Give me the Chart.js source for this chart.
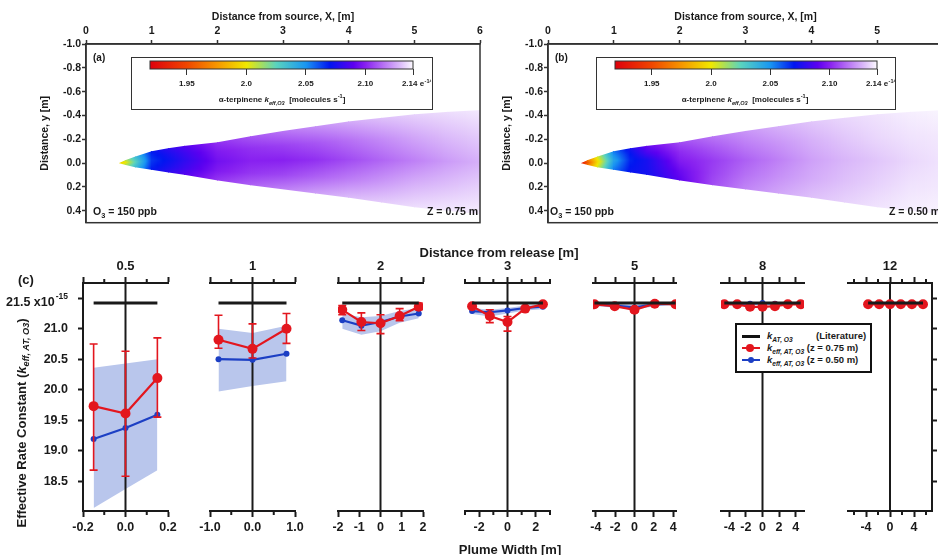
<!DOCTYPE html>
<html>
<head>
<meta charset="utf-8">
<title>alpha-terpinene effective rate constant in the plume</title>
<script src="https://cdn.jsdelivr.net/npm/chart.js@4.4.1/dist/chart.umd.min.js"></script>
<style>
  html, body { margin: 0; padding: 0; background: #fff; }
  body { position: relative; width: 938px; height: 555px; overflow: hidden;
         font-family: "Liberation Sans", Arial, sans-serif; font-weight: bold; color: #1a1a1a; }
  canvas, .txt, .box, .ln, .dot { position: absolute; }
  .txt { white-space: nowrap; line-height: 1; z-index: 6; }
  .box { border: 1.5px solid #333; background: #fff; box-sizing: border-box; }
  .ln { height: 2px; }
  .dot { border-radius: 50%; }
  sub, sup { font-size: 70%; line-height: 0; }
</style>
</head>
<body>
<!-- (a) and (b): plume maps -->
<canvas id="mapA" width="490" height="230" style="left:0;top:0"></canvas>
<canvas id="mapB" width="470" height="230" style="left:490px;top:0"></canvas>

<div class="box" style="left:131px;top:57px;width:302px;height:53px"></div>
<canvas id="cbA" width="299" height="50" style="left:132px;top:58px"></canvas>
<div class="box" style="left:596px;top:57px;width:300px;height:53px"></div>
<canvas id="cbB" width="298" height="50" style="left:597px;top:58px"></canvas>

<div class="txt" style="left:282px;top:100px;transform:translate(-50%,-50%);font-size:8px">α-terpinene <i>k</i><sub><i>eff,O3</i></sub> &nbsp;[molecules s<sup>-1</sup>]</div>
<div class="txt" style="left:745px;top:100px;transform:translate(-50%,-50%);font-size:8px">α-terpinene <i>k</i><sub><i>eff,O3</i></sub> &nbsp;[molecules s<sup>-1</sup>]</div>

<div class="txt" style="left:93px;top:53px;font-size:10px">(a)</div>
<div class="txt" style="left:93px;top:206px;font-size:10.5px">O<sub>3</sub> = 150 ppb</div>
<div class="txt" style="left:427px;top:206px;font-size:10.5px">Z = 0.75 m</div>
<div class="txt" style="left:555px;top:53px;font-size:10px">(b)</div>
<div class="txt" style="left:550px;top:206px;font-size:10.5px">O<sub>3</sub> = 150 ppb</div>
<div class="txt" style="left:889px;top:206px;font-size:10.5px">Z = 0.50 m</div>

<!-- (c) labels -->
<div class="txt" style="left:18px;top:273px;font-size:13px">(c)</div>
<div class="txt" style="left:499px;top:252px;transform:translate(-50%,-50%);font-size:13px">Distance from release [m]</div>
<div class="txt" style="left:510px;top:549px;transform:translate(-50%,-50%);font-size:13px">Plume Width [m]</div>
<div class="txt" style="left:21px;top:423px;transform:translate(-50%,-50%) rotate(-90deg);font-size:13px">Effective Rate Constant (<i>k</i><sub><i>eff, AT, O3</i></sub>)</div>

<div class="box" id="legend" style="left:735px;top:323px;width:137px;height:50px;border:2px solid #111;z-index:5">
  <span class="ln" style="left:5px;top:10px;width:18px;height:3px;background:#111"></span>
  <div class="txt" style="left:30px;top:6px;font-size:9.5px"><i>k</i><sub><i>AT, O3</i></sub></div>
  <div class="txt" style="left:79px;top:6px;font-size:9.5px">(Literature)</div>
  <span class="ln" style="left:5px;top:22px;width:18px;background:#e3161e"></span>
  <span class="dot" style="left:9px;top:19px;width:8px;height:8px;background:#e3161e"></span>
  <div class="txt" style="left:30px;top:18px;font-size:9.5px"><i>k</i><sub><i>eff, AT, O3</i></sub> (z = 0.75 m)</div>
  <span class="ln" style="left:5px;top:34px;width:18px;background:#1c3fc4"></span>
  <span class="dot" style="left:11px;top:32px;width:6px;height:6px;background:#1c3fc4"></span>
  <div class="txt" style="left:30px;top:30px;font-size:9.5px"><i>k</i><sub><i>eff, AT, O3</i></sub> (z = 0.50 m)</div>
</div>

<script>
// ---------- (a)/(b) plume maps: k_eff in units of 1e-14 ----------
const plumeX     = [0.5, 0.6, 0.75, 1.0, 1.25, 1.5, 2.0, 2.5, 3.0, 3.5, 4.0, 4.5, 5.0, 5.5, 6.0];
const plumeUpper = [0, -0.025, -0.055, -0.10, -0.125, -0.145, -0.175, -0.225, -0.27, -0.31, -0.35, -0.38, -0.41, -0.43, -0.445];
const plumeLower = [0, 0.015, 0.035, 0.056, 0.078, 0.098, 0.145, 0.185, 0.22, 0.255, 0.29, 0.33, 0.37, 0.40, 0.43];

// z = 0.75 m, rows from the upper plume edge to the lower one
const kA_upperEdge = [1.995, 2.01, 2.035, 2.07, 2.08, 2.088, 2.103, 2.11, 2.116, 2.121, 2.126, 2.13, 2.133, 2.135, 2.137];
const kA_upperMid  = [1.99, 2.005, 2.03, 2.067, 2.075, 2.083, 2.098, 2.103, 2.106, 2.11, 2.115, 2.12, 2.125, 2.129, 2.132];
const kA_center    = [1.985, 2.0, 2.025, 2.065, 2.072, 2.08, 2.095, 2.10, 2.10, 2.103, 2.108, 2.113, 2.118, 2.123, 2.127];
const kA_lowerMid  = [1.99, 2.005, 2.03, 2.067, 2.075, 2.083, 2.098, 2.104, 2.107, 2.112, 2.117, 2.122, 2.127, 2.13, 2.133];
const kA_lowerEdge = [1.995, 2.01, 2.035, 2.07, 2.08, 2.088, 2.104, 2.112, 2.118, 2.124, 2.129, 2.132, 2.135, 2.137, 2.138];

// z = 0.50 m
const kB_upperEdge = [1.93, 1.965, 2.005, 2.055, 2.075, 2.092, 2.108, 2.116, 2.122, 2.127, 2.131, 2.134, 2.136, 2.138, 2.139];
const kB_upperMid  = [1.925, 1.96, 2.0, 2.05, 2.07, 2.085, 2.102, 2.11, 2.117, 2.122, 2.127, 2.131, 2.134, 2.136, 2.137];
const kB_center    = [1.925, 1.955, 1.995, 2.045, 2.068, 2.075, 2.098, 2.105, 2.112, 2.118, 2.124, 2.128, 2.131, 2.134, 2.136];
const kB_lowerMid  = [1.925, 1.96, 2.0, 2.05, 2.07, 2.075, 2.093, 2.106, 2.115, 2.121, 2.126, 2.13, 2.133, 2.136, 2.137];
const kB_lowerEdge = [1.93, 1.965, 2.005, 2.055, 2.072, 2.074, 2.09, 2.108, 2.119, 2.125, 2.13, 2.133, 2.136, 2.138, 2.139];

const mapXTicks = [0, 1, 2, 3, 4, 5, 6];
const mapYTicks = [-1.0, -0.8, -0.6, -0.4, -0.2, 0.0, 0.2, 0.4];
const cbTicks = [1.95, 2.0, 2.05, 2.10, 2.14];
const cbLabels = ['1.95', '2.0', '2.05', '2.10', '2.14 e'];

// ---------- (c) cross-plume profiles: k_eff in units of 1e-15 ----------
const distances = ['0.5', '1', '2', '3', '5', '8', '12'];
const plumeWidthPos = [
  [-0.15, 0, 0.15],
  [-0.8, 0, 0.8],
  [-1.8, -0.9, 0, 0.9, 1.8],
  [-2.5, -1.25, 0, 1.25, 2.5],
  [-4.15, -2.05, 0, 2.1, 4.25],
  [-4.6, -3.05, -1.5, 0, 1.5, 3.05, 4.6],
  [-3.65, -1.8, 0, 1.8, 3.65, 5.5],
];
const redK = [
  [19.73, 19.61, 20.19],
  [20.82, 20.67, 21.00],
  [21.31, 21.11, 21.09, 21.21, 21.36],
  [21.37, 21.21, 21.11, 21.33, 21.40],
  [21.40, 21.37, 21.31, 21.41, 21.40],
  [21.40, 21.40, 21.36, 21.36, 21.37, 21.40, 21.40],
  [21.40, 21.40, 21.40, 21.40, 21.40, 21.40],
];
const redHi = [
  [20.75, 20.63, 20.85],
  [21.22, 21.08, 21.25],
  [21.38, 21.26, 21.23, 21.33, 21.42],
  [21.37, 21.31, 21.20, 21.33, 21.40],
  [21.40, 21.37, 21.33, 21.41, 21.40],
  [21.40, 21.40, 21.36, 21.36, 21.37, 21.40, 21.40],
  [21.40, 21.40, 21.40, 21.40, 21.40, 21.40],
];
const redLo = [
  [18.68, 18.58, 19.55],
  [20.68, 20.52, 20.76],
  [21.23, 20.97, 20.92, 21.13, 21.31],
  [21.37, 21.10, 20.96, 21.33, 21.40],
  [21.40, 21.37, 21.27, 21.41, 21.40],
  [21.40, 21.40, 21.36, 21.36, 21.37, 21.40, 21.40],
  [21.40, 21.40, 21.40, 21.40, 21.40, 21.40],
];
const blueK = [
  [19.19, 19.37, 19.59],
  [20.50, 20.49, 20.59],
  [21.14, 21.05, 21.11, 21.20, 21.25],
  [21.29, 21.27, 21.30, 21.34, 21.36],
  [21.40, 21.38, 21.35, 21.40, 21.41],
  [21.41, 21.41, 21.41, 21.42, 21.41, 21.41, 21.41],
  [21.41, 21.41, 21.41, 21.41, 21.41, 21.41],
];
const bandHi = [
  [20.36, 20.43, 20.50],
  [21.00, 20.93, 21.05],
  [21.25, 21.19, 21.21, 21.29, 21.34],
  [21.34, 21.31, 21.34, 21.38, 21.40],
  [21.42, 21.41, 21.39, 21.42, 21.43],
  [21.42, 21.42, 21.42, 21.43, 21.42, 21.42, 21.42],
  [21.42, 21.42, 21.42, 21.42, 21.42, 21.42],
];
const bandLo = [
  [18.06, 18.37, 18.68],
  [19.97, 20.06, 20.14],
  [21.00, 20.90, 20.96, 21.10, 21.17],
  [21.24, 21.20, 21.25, 21.30, 21.32],
  [21.37, 21.35, 21.31, 21.37, 21.39],
  [21.40, 21.40, 21.40, 21.41, 21.40, 21.40, 21.40],
  [21.40, 21.40, 21.40, 21.40, 21.40, 21.40],
];
const literatureK = 21.42;
const yTicks = [18.5, 19.0, 19.5, 20.0, 20.5, 21.0, 21.5];
const xRange = [[-0.2, 0.2], [-1, 1], [-2, 2], [-3, 3], [-4.3, 4.3], [-5, 5], [-7, 7]];
const majorTicks = [[-0.2, 0, 0.2], [-1, 0, 1], [-2, -1, 0, 1, 2], [-2, 0, 2], [-4, -2, 0, 2, 4], [-4, -2, 0, 2, 4], [-4, 0, 4]];
const minorTicks = [[-0.1, 0.1], [-0.5, 0.5], [], [-3, -1, 1, 3], [], [], [-6, -2, 2, 6]];
const tickDecimals = [1, 1, 0, 0, 0, 0, 0];

// ---------- layout / style ----------
const FONT = '"Liberation Sans", Arial, sans-serif';
const INK = '#1a1a1a', RED = '#e3161e', BLUE = '#1c3fc4', BAND = '#b9c6ec';
const f = size => ({ family: FONT, size, weight: 'bold' });
const Y_MIN = 18.01, Y_MAX = 21.75;
const subLeft = [83, 210, 338, 465, 593, 721, 848];
const subWidth = [85, 85, 85, 85, 83, 83, 84];

// colour map of the colour bar (k in 1e-14)
const cmapK = [1.919, 1.95, 1.975, 2.00, 2.025, 2.05, 2.07, 2.09, 2.10, 2.115, 2.13, 2.14];
const cmapRGB = [[222, 0, 12], [240, 70, 0], [246, 150, 0], [240, 232, 0], [90, 212, 190], [25, 150, 242],
                 [0, 22, 240], [92, 0, 240], [136, 32, 240], [182, 112, 245], [222, 192, 250], [252, 250, 255]];

function kColor(v) {
  if (v <= cmapK[0]) return `rgb(${cmapRGB[0]})`;
  for (let i = 1; i < cmapK.length; i++) {
    if (v <= cmapK[i]) {
      const t = (v - cmapK[i - 1]) / (cmapK[i] - cmapK[i - 1]);
      const c = cmapRGB[i - 1].map((a, j) => Math.round(a + (cmapRGB[i][j] - a) * t));
      return `rgb(${c})`;
    }
  }
  return `rgb(${cmapRGB[cmapRGB.length - 1]})`;
}

// Paints the plume: one pixel column at a time, a vertical gradient through the
// five rows, placed with the chart's own x/y scales.
const plumePlugin = {
  id: 'plume',
  beforeDatasetsDraw(chart, args, opts) {
    const rows = opts.rows;
    if (!rows) return;
    const xs = chart.scales.x, ys = chart.scales.y, ctx = chart.ctx;
    ctx.save();
    for (let i = 0; i < plumeX.length - 1; i++) {
      const p0 = xs.getPixelForValue(plumeX[i]), p1 = xs.getPixelForValue(plumeX[i + 1]);
      for (let px = Math.floor(p0); px < Math.ceil(p1); px++) {
        const t = Math.min(1, Math.max(0, (px + 0.5 - p0) / (p1 - p0)));
        const at = a => a[i] + (a[i + 1] - a[i]) * t;
        const top = ys.getPixelForValue(at(plumeUpper)), bot = ys.getPixelForValue(at(plumeLower));
        if (bot - top < 0.3) continue;
        const g = ctx.createLinearGradient(0, top, 0, bot);
        rows.forEach((r, j) => g.addColorStop(j / (rows.length - 1), kColor(at(r))));
        ctx.fillStyle = g;
        ctx.fillRect(px, top, 1, bot - top);
      }
    }
    ctx.restore();
  },
  afterDraw(chart) {
    const a = chart.chartArea, ctx = chart.ctx;
    ctx.save();
    ctx.strokeStyle = '#333'; ctx.lineWidth = 1.5;
    ctx.strokeRect(a.left, a.top, a.right - a.left, a.bottom - a.top);
    ctx.restore();
  }
};

function mapChart(id, rows, yWidth, yTitlePad, rightPad) {
  return new Chart(document.getElementById(id), {
    type: 'scatter',
    data: { datasets: [] },
    options: {
      responsive: false, animation: false, events: [],
      layout: { padding: { left: 0, right: rightPad, top: 0, bottom: 7 } },
      plugins: { legend: { display: false }, tooltip: { enabled: false }, plume: { rows } },
      scales: {
        x: {
          type: 'linear', position: 'top', min: 0, max: 6,
          afterBuildTicks: s => { s.ticks = mapXTicks.map(v => ({ value: v })); },
          afterFit: s => { s.height = 44; },
          grid: { drawOnChartArea: false, tickLength: 4, tickWidth: 1.5, tickColor: '#333' },
          border: { color: '#333', width: 1.5 },
          ticks: { font: f(10.5), color: INK, padding: 3, maxRotation: 0, autoSkip: false },
          title: { display: true, text: 'Distance from source, X, [m]', font: f(10.5), color: INK, padding: { top: 10.7, bottom: 0 } }
        },
        y: {
          type: 'linear', reverse: true, min: -1.0, max: 0.5,
          afterBuildTicks: s => { s.ticks = mapYTicks.map(v => ({ value: v })); },
          afterFit: s => { s.width = yWidth; },
          grid: { drawOnChartArea: false, tickLength: 4, tickWidth: 1.5, tickColor: '#333' },
          border: { color: '#333', width: 1.5 },
          ticks: { font: f(10.5), color: INK, padding: 1, callback: v => v.toFixed(1) },
          title: { display: true, text: 'Distance, y [m]', font: f(10.5), color: INK, padding: { top: yTitlePad, bottom: 0 } }
        }
      }
    },
    plugins: [plumePlugin]
  });
}

const colorbarPlugin = {
  id: 'colorbar',
  beforeDatasetsDraw(chart) {
    const a = chart.chartArea, xs = chart.scales.x, ctx = chart.ctx;
    const g = ctx.createLinearGradient(a.left, 0, a.right, 0);
    cmapK.forEach((k, i) => {
      const t = (xs.getPixelForValue(k) - a.left) / (a.right - a.left);
      g.addColorStop(Math.min(1, Math.max(0, t)), `rgb(${cmapRGB[i]})`);
    });
    ctx.save();
    ctx.fillStyle = g;
    ctx.fillRect(a.left, a.top, a.right - a.left, a.bottom - a.top);
    ctx.strokeStyle = '#333'; ctx.lineWidth = 1;
    ctx.strokeRect(a.left, a.top, a.right - a.left, a.bottom - a.top);
    // exponent of the last label
    const last = cbTicks[cbTicks.length - 1];
    ctx.font = `bold 8px ${FONT}`;
    const w = ctx.measureText(cbLabels[cbLabels.length - 1]).width;
    ctx.fillStyle = INK; ctx.textBaseline = 'middle'; ctx.textAlign = 'left';
    ctx.font = `bold 5.5px ${FONT}`;
    ctx.fillText('-14', xs.getPixelForValue(last) + w / 2 + 0.5, a.bottom + 12);
    ctx.restore();
  }
};

function colorbarChart(id) {
  return new Chart(document.getElementById(id), {
    type: 'scatter',
    data: { datasets: [] },
    options: {
      responsive: false, animation: false, events: [],
      layout: { padding: { left: 18, right: 18, top: 3, bottom: 0 } },
      plugins: { legend: { display: false }, tooltip: { enabled: false } },
      scales: {
        x: {
          type: 'linear', min: cmapK[0], max: cmapK[cmapK.length - 1],
          afterBuildTicks: s => { s.ticks = cbTicks.map(v => ({ value: v })); },
          afterFit: s => { s.height = 39; },
          grid: { drawOnChartArea: false, tickLength: 6, tickWidth: 1, tickColor: '#333' },
          border: { display: false },
          ticks: { font: f(8), color: INK, padding: 4, maxRotation: 0, autoSkip: false,
                   callback: (v, i) => cbLabels[i] }
        },
        y: { display: false, min: 0, max: 1 }
      }
    },
    plugins: [colorbarPlugin]
  });
}

mapChart('mapA', [kA_upperEdge, kA_upperMid, kA_center, kA_lowerMid, kA_lowerEdge], 86, 38.7, 10);
mapChart('mapB', [kB_upperEdge, kB_upperMid, kB_center, kB_lowerMid, kB_lowerEdge], 58, 10.7, 17);
colorbarChart('cbA');
colorbarChart('cbB');

// ---------- (c) small multiples ----------
const errorBarPlugin = {
  id: 'errorBars',
  beforeDatasetDraw(chart, args, opts) {
    if (args.index !== opts.datasetIndex) return;
    const xs = chart.scales.x, ys = chart.scales.y, ctx = chart.ctx;
    ctx.save();
    ctx.strokeStyle = RED; ctx.lineWidth = 1.6;
    opts.x.forEach((xv, j) => {
      if (opts.hi[j] - opts.lo[j] < 0.02) return;
      const px = xs.getPixelForValue(xv);
      const p1 = ys.getPixelForValue(opts.hi[j]), p2 = ys.getPixelForValue(opts.lo[j]);
      ctx.beginPath();
      ctx.moveTo(px, p1); ctx.lineTo(px, p2);
      ctx.moveTo(px - 4, p1); ctx.lineTo(px + 4, p1);
      ctx.moveTo(px - 4, p2); ctx.lineTo(px + 4, p2);
      ctx.stroke();
    });
    ctx.restore();
  }
};

const axisExtrasPlugin = {
  id: 'axisExtras',
  afterDraw(chart, args, opts) {
    const ctx = chart.ctx, a = chart.chartArea, xs = chart.scales.x;
    ctx.save();
    ctx.strokeStyle = INK; ctx.lineWidth = 2;
    (opts.minor || []).forEach(v => {
      const px = xs.getPixelForValue(v);
      ctx.beginPath();
      ctx.moveTo(px, a.top); ctx.lineTo(px, a.top - 4);
      ctx.moveTo(px, a.bottom); ctx.lineTo(px, a.bottom + 4);
      ctx.stroke();
    });
    if (opts.exponentLabel) {
      // "21.5 x10^-15" on the left axis
      const ys = chart.scales.y;
      const py = ys.getPixelForValue(21.5) + 4;
      const right = ys.right - 15;
      ctx.fillStyle = INK; ctx.textBaseline = 'middle'; ctx.textAlign = 'right';
      ctx.font = `bold 8.5px ${FONT}`;
      ctx.fillText('-15', right, py - 6);
      const wSup = ctx.measureText('-15').width;
      ctx.font = `bold 12.5px ${FONT}`;
      ctx.fillText('21.5 x10', right - wSup - 1, py);
    }
    ctx.restore();
  }
};

function subChart(i) {
  const first = i === 0, last = i === distances.length - 1;
  const L = subLeft[i], W = subWidth[i];
  const padL = first ? 0 : 22, padR = last ? 0 : 22;
  const yW = first ? L : 0, y2W = last ? 12 : 0;
  const cv = document.createElement('canvas');
  cv.width = (first ? yW : padL) + W + padR + y2W;
  cv.height = 315;
  cv.style.left = (first ? 0 : L - padL) + 'px';
  cv.style.top = '240px';
  document.body.insertBefore(cv, document.getElementById('legend'));

  const xs = plumeWidthPos[i];
  const pts = arr => xs.map((x, j) => ({ x, y: arr[j] }));
  const ticksAt = list => s => { s.ticks = list.map(v => ({ value: v })); };
  const tickGrid = { drawOnChartArea: false, tickLength: 6, tickWidth: 2, tickColor: INK };

  new Chart(cv, {
    type: 'line',
    data: {
      datasets: [
        { label: 'band hi', data: pts(bandHi[i]), borderWidth: 0, pointRadius: 0, fill: false, order: 6 },
        { label: 'band lo', data: pts(bandLo[i]), borderWidth: 0, pointRadius: 0, fill: '-1', backgroundColor: BAND, order: 5 },
        { label: 'x = 0', data: [{ x: 0, y: Y_MIN }, { x: 0, y: Y_MAX }], borderColor: INK, borderWidth: 2, pointRadius: 0, order: 4 },
        { label: 'k_eff z=0.50', data: pts(blueK[i]), borderColor: BLUE, backgroundColor: BLUE, borderWidth: 2.2,
          pointRadius: 3, pointBorderWidth: 0, order: 3 },
        { label: 'k_eff z=0.75', data: pts(redK[i]), borderColor: RED, backgroundColor: RED, borderWidth: 2.2,
          pointRadius: 5, pointBorderWidth: 0, order: 2 },
        { label: 'k literature', data: [{ x: xs[0], y: literatureK }, { x: xs[xs.length - 1], y: literatureK }],
          borderColor: INK, borderWidth: 3, pointRadius: 0, order: 1 },
      ]
    },
    options: {
      responsive: false, animation: false, events: [],
      layout: { padding: { left: first ? 0 : padL, right: padR, top: 0, bottom: 0 } },
      plugins: {
        legend: { display: false }, tooltip: { enabled: false },
        errorBars: { datasetIndex: 4, x: xs, hi: redHi[i], lo: redLo[i] },
        axisExtras: { minor: minorTicks[i], exponentLabel: first }
      },
      scales: {
        x: {
          type: 'linear', position: 'bottom', min: xRange[i][0], max: xRange[i][1],
          afterBuildTicks: ticksAt(majorTicks[i]),
          afterFit: s => { s.height = 44; },
          grid: tickGrid, border: { color: INK, width: 2 },
          ticks: { font: f(12.5), color: INK, padding: 3.5, maxRotation: 0, autoSkip: false,
                   callback: v => v.toFixed(tickDecimals[i]) }
        },
        x2: {
          type: 'linear', position: 'top', min: xRange[i][0], max: xRange[i][1],
          afterBuildTicks: ticksAt(majorTicks[i]),
          afterFit: s => { s.height = 43; },
          grid: tickGrid, border: { color: INK, width: 2 },
          ticks: { display: false },
          title: { display: true, text: distances[i], font: f(13), color: INK, padding: { top: 19, bottom: 0 } }
        },
        y: {
          type: 'linear', display: first, min: Y_MIN, max: Y_MAX,
          afterBuildTicks: ticksAt(yTicks),
          afterFit: s => { s.width = yW; },
          grid: { drawOnChartArea: false, tickLength: 5, tickWidth: 2, tickColor: INK },
          border: { color: INK, width: 2 },
          ticks: { font: f(12.5), color: INK, padding: 10, callback: v => v === 21.5 ? '' : v.toFixed(1) }
        },
        y2: {
          type: 'linear', display: last, position: 'right', min: Y_MIN, max: Y_MAX,
          afterBuildTicks: ticksAt(yTicks),
          afterFit: s => { s.width = y2W; },
          grid: { drawOnChartArea: false, tickLength: 5, tickWidth: 2, tickColor: INK },
          border: { color: INK, width: 2 },
          ticks: { display: false }
        }
      }
    },
    plugins: [errorBarPlugin, axisExtrasPlugin]
  });
}

distances.forEach((d, i) => subChart(i));
</script>
</body>
</html>
